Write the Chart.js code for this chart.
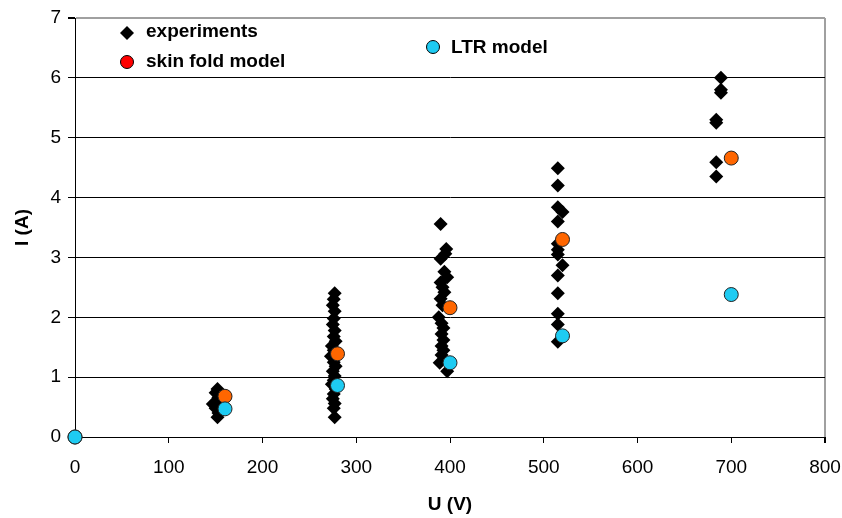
<!DOCTYPE html>
<html>
<head>
<meta charset="utf-8">
<script src="https://cdn.jsdelivr.net/npm/chart.js@4"></script>
<style>
    html, body { margin: 0; padding: 0; background: #fff; }
    #wrap { width: 842px; height: 518px; }
</style>
</head>
<body>
<div id="wrap"><canvas id="myChart" width="842" height="518"></canvas></div>
<script>
// measured points (U in V, I in A)
var expU = [
    152, 150, 153, 151, 147, 150, 153, 152,
    277, 276, 275, 277, 276, 275, 277, 276, 278, 274, 276, 279, 273, 276, 278, 275, 277, 276, 274, 278, 276, 275, 277, 276, 277,
    390, 396, 395, 390, 394, 397, 390, 392, 394, 390, 392, 388, 391, 393, 391, 393, 391, 393, 391, 389, 397,
    515, 515, 515, 520, 515, 515, 515, 515, 520, 515, 515, 515, 515, 515,
    689, 689, 689, 684, 684, 684, 684
];
var expI = [
    0.80, 0.74, 0.66, 0.60, 0.55, 0.48, 0.40, 0.33,
    2.40, 2.30, 2.20, 2.10, 1.98, 1.88, 1.78, 1.68, 1.60, 1.52, 1.45, 1.40, 1.35, 1.25, 1.18, 1.10, 1.02, 0.95, 0.88, 0.80, 0.72, 0.64, 0.56, 0.48, 0.33,
    3.56, 3.14, 3.06, 2.98, 2.76, 2.67, 2.58, 2.50, 2.42, 2.31, 2.20, 2.00, 1.90, 1.82, 1.72, 1.62, 1.52, 1.45, 1.37, 1.24, 1.10,
    4.49, 4.20, 3.84, 3.76, 3.60, 3.23, 3.13, 3.05, 2.87, 2.70, 2.40, 2.06, 1.88, 1.59,
    6.00, 5.80, 5.75, 5.30, 5.25, 4.59, 4.35
];

// model curves
var skinU = [0, 160, 280, 400, 520, 700];
var skinI = [0, 0.68, 1.39, 2.16, 3.30, 4.66];
var ltrU = [0, 160, 280, 400, 520, 700];
var ltrI = [0, 0.47, 0.86, 1.24, 1.69, 2.38];

var xTicks = [0, 100, 200, 300, 400, 500, 600, 700, 800];
var yTicks = [0, 1, 2, 3, 4, 5, 6, 7];

function toPoints(xs, ys) {
    var pts = [];
    for (var i = 0; i < xs.length; i++) {
        pts.push({ x: xs[i], y: ys[i] });
    }
    return pts;
}

var FONT = '"Liberation Sans", Arial, sans-serif';
var ORANGE = '#FF6600';
var BLUE = '#1ECBF2';

// legend drawn inside the plot, like the original
var inlineLegend = {
    id: 'inlineLegend',
    afterDraw: function (chart) {
        var ctx = chart.ctx;
        var a = chart.chartArea;
        ctx.save();
        ctx.font = 'bold 19px ' + FONT;
        ctx.fillStyle = '#000';
        ctx.textBaseline = 'middle';
        ctx.textAlign = 'left';

        // experiments
        var dx = a.left + 52, dy = a.top + 15;
        ctx.beginPath();
        ctx.moveTo(dx - 7, dy); ctx.lineTo(dx, dy - 7); ctx.lineTo(dx + 7, dy); ctx.lineTo(dx, dy + 7);
        ctx.closePath();
        ctx.fill();
        ctx.fillText('experiments', a.left + 71, a.top + 14);

        // skin fold model
        ctx.beginPath();
        ctx.arc(a.left + 52, a.top + 44, 6.5, 0, Math.PI * 2);
        ctx.fillStyle = '#FF0000';
        ctx.fill();
        ctx.lineWidth = 1;
        ctx.strokeStyle = '#000';
        ctx.stroke();
        ctx.fillStyle = '#000';
        ctx.fillText('skin fold model', a.left + 71, a.top + 44);

        // LTR model
        ctx.beginPath();
        ctx.arc(a.left + 358, a.top + 29, 6.5, 0, Math.PI * 2);
        ctx.fillStyle = BLUE;
        ctx.fill();
        ctx.stroke();
        ctx.fillStyle = '#000';
        ctx.fillText('LTR model', a.left + 376, a.top + 30);
        ctx.restore();
    }
};

var ctx = document.getElementById('myChart').getContext('2d');
var myChart = new Chart(ctx, {
    type: 'scatter',
    data: {
        datasets: [{
            label: 'experiments',
            data: toPoints(expU, expI),
            pointStyle: 'rectRot',
            pointRadius: 7,
            pointHoverRadius: 7,
            backgroundColor: '#000',
            borderColor: '#000',
            borderWidth: 0,
            order: 3,
            clip: false
        }, {
            label: 'skin fold model',
            data: toPoints(skinU, skinI),
            pointStyle: 'circle',
            pointRadius: 7,
            pointHoverRadius: 7,
            backgroundColor: ORANGE,
            borderColor: '#222',
            borderWidth: 1,
            order: 2,
            clip: false
        }, {
            label: 'LTR model',
            data: toPoints(ltrU, ltrI),
            pointStyle: 'circle',
            pointRadius: 7,
            pointHoverRadius: 7,
            backgroundColor: BLUE,
            borderColor: '#222',
            borderWidth: 1,
            order: 1,
            clip: false
        }]
    },
    options: {
        responsive: false,
        animation: false,
        layout: { padding: { top: 18, right: 17, left: 0, bottom: 0 } },
        plugins: {
            legend: { display: false },
            tooltip: { enabled: false }
        },
        scales: {
            x: {
                type: 'linear',
                min: 0,
                max: 800,
                afterFit: function (s) {
                    s.height = 81;
                    s.paddingLeft = 0;
                    s.paddingRight = 0;
                },
                afterBuildTicks: function (s) {
                    s.ticks = xTicks.map(function (v) { return { value: v }; });
                },
                border: { color: '#000', width: 1 },
                grid: {
                    drawOnChartArea: true,
                    color: function (c) {
                        return c.tick && c.tick.value === 800 ? '#a0a0a0' : 'rgba(0,0,0,0)';
                    },
                    lineWidth: function (c) {
                        return c.tick && c.tick.value === 800 ? 2 : 1;
                    },
                    tickColor: '#000',
                    tickLength: 6
                },
                ticks: {
                    padding: 13,
                    color: '#000',
                    font: { family: FONT, size: 19 },
                    maxRotation: 0
                },
                title: {
                    display: true,
                    text: 'U (V)',
                    color: '#000',
                    font: { family: FONT, size: 19, weight: 'bold' },
                    padding: { top: 0, bottom: 2 }
                }
            },
            y: {
                type: 'linear',
                min: 0,
                max: 7,
                afterFit: function (s) {
                    s.width = 75;
                    s.paddingTop = 0;
                    s.paddingBottom = 0;
                },
                afterBuildTicks: function (s) {
                    s.ticks = yTicks.map(function (v) { return { value: v }; });
                },
                border: { color: '#000', width: 1 },
                grid: {
                    color: function (c) {
                        return c.tick && c.tick.value === 7 ? '#a0a0a0' : '#000';
                    },
                    lineWidth: function (c) {
                        return c.tick && c.tick.value === 7 ? 2 : 1;
                    },
                    tickColor: '#000',
                    tickLength: 7
                },
                ticks: {
                    padding: 7,
                    color: '#000',
                    font: { family: FONT, size: 19 }
                },
                title: {
                    display: true,
                    text: 'I (A)',
                    color: '#000',
                    font: { family: FONT, size: 19, weight: 'bold' },
                    padding: { top: 11, bottom: 0 }
                }
            }
        }
    },
    plugins: [inlineLegend]
});
</script>
</body>
</html>
